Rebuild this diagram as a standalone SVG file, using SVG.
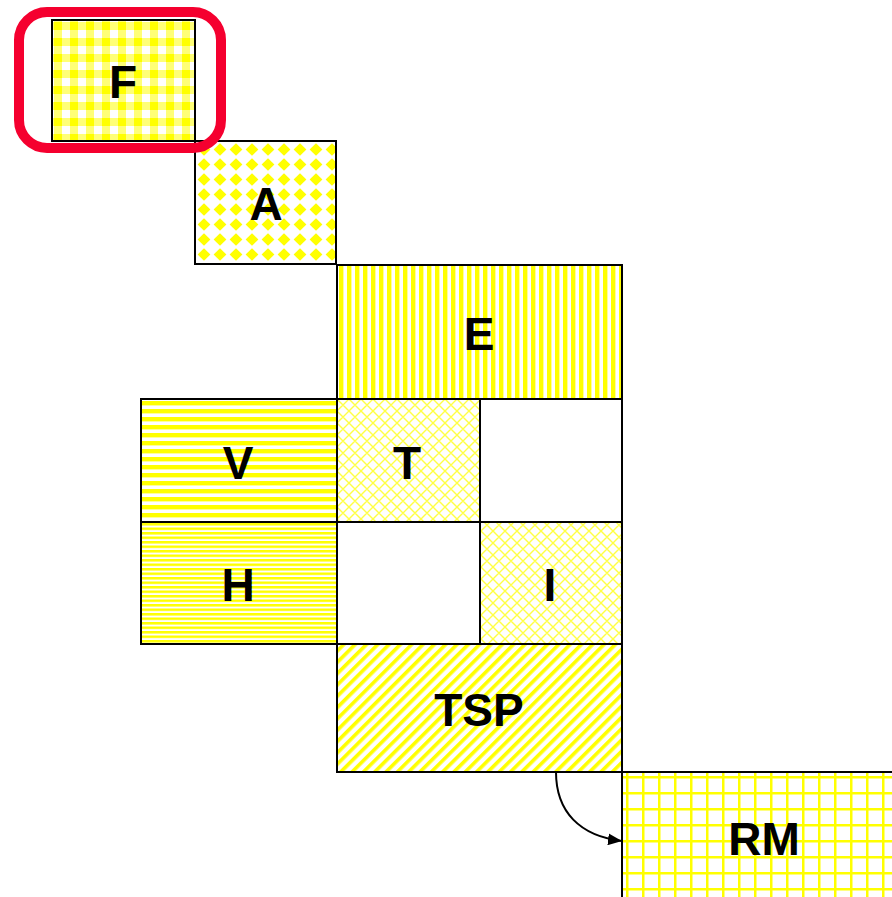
<svg xmlns="http://www.w3.org/2000/svg" width="892" height="897" viewBox="0 0 892 897">
<style>
.box{stroke:#000;stroke-width:2}
.lbl{font-family:"Liberation Sans",Arial,sans-serif;font-weight:bold;font-size:46px;fill:#000;text-anchor:middle}
.conn{fill:none;stroke:#000;stroke-width:2}
</style>
<defs>
<pattern id="pGing" patternUnits="userSpaceOnUse" x="54" y="22" width="16" height="16">
<rect width="16" height="16" fill="#fff"/>
<rect x="0" y="0" width="8" height="16" fill="#ffff77"/>
<rect x="0" y="0" width="16" height="8" fill="#ffff77"/>
<rect x="0" y="0" width="8" height="8" fill="#ffff00"/>
</pattern>
<pattern id="pDiam" patternUnits="userSpaceOnUse" x="196" y="142" width="16" height="15">
<rect width="16" height="15" fill="#fff"/>
<polygon points="8,1.3 14.4,7.5 8,13.7 1.6,7.5" fill="#ffff00"/>
</pattern>
<pattern id="pVert" patternUnits="userSpaceOnUse" x="339" y="0" width="8" height="8">
<rect width="8" height="8" fill="#fff"/>
<rect x="0" width="4" height="8" fill="#ffff00"/>
<rect x="4" width="1" height="8" fill="#ffff99"/>
</pattern>
<pattern id="pHorz" patternUnits="userSpaceOnUse" x="0" y="401" width="8" height="8">
<rect width="8" height="8" fill="#fff"/>
<rect y="0" width="8" height="4" fill="#ffff00"/>
<rect y="4" width="8" height="1" fill="#ffff99"/>
</pattern>
<pattern id="pHorzFine" patternUnits="userSpaceOnUse" x="0" y="523" width="8" height="4.5">
<rect width="8" height="4.5" fill="#fff"/>
<rect y="0" width="8" height="2.5" fill="#ffff00"/>
</pattern>
<pattern id="pCross" patternUnits="userSpaceOnUse" x="337" y="399" width="12" height="12">
<rect width="12" height="12" fill="#fff"/>
<path d="M0,0 L12,12 M12,0 L0,12 M-6,6 L0,12 M6,-6 L18,6 M-6,6 L6,-6 M6,18 L18,6" stroke="#ffff44" stroke-width="1.4" fill="none"/>
</pattern>
<pattern id="pDiag" patternUnits="userSpaceOnUse" x="337" y="644" width="8" height="8" patternTransform="rotate(45)">
<rect width="8" height="8" fill="#fff"/>
<rect width="3.6" height="8" fill="#ffff00"/>
</pattern>
<pattern id="pGrid" patternUnits="userSpaceOnUse" x="626" y="776" width="16" height="16">
<rect width="16" height="16" fill="#fff"/>
<rect x="0" y="0" width="2.5" height="16" fill="#ffff00"/>
<rect x="0" y="0" width="16" height="2.5" fill="#ffff00"/>
</pattern>
<marker id="arrow" markerWidth="14" markerHeight="12" refX="14" refY="6" orient="auto" markerUnits="userSpaceOnUse" viewBox="0 0 14 12">
<polygon points="0,0 14,6 0,12" fill="#000"/>
</marker>
</defs>

<g id="node-F">
<rect class="box" x="52" y="20" width="143" height="121" fill="url(#pGing)"/>
<text class="lbl" x="123" y="98">F</text>
</g>
<g id="node-A">
<rect class="box" x="195" y="141" width="141" height="123" fill="url(#pDiam)"/>
<text class="lbl" x="266" y="220">A</text>
</g>
<g id="node-E">
<rect class="box" x="337" y="265" width="285" height="134" fill="url(#pVert)"/>
<text class="lbl" x="479" y="350">E</text>
</g>
<g id="node-V">
<rect class="box" x="141" y="399" width="196" height="123" fill="url(#pHorz)"/>
<text class="lbl" x="238" y="479">V</text>
</g>
<g id="node-T">
<rect class="box" x="337" y="399" width="143" height="123" fill="url(#pCross)"/>
<text class="lbl" x="407" y="479">T</text>
</g>
<g id="node-empty1">
<rect class="box" x="480" y="399" width="142" height="123" fill="#fff"/>
</g>
<g id="node-H">
<rect class="box" x="141" y="522" width="196" height="122" fill="url(#pHorzFine)"/>
<text class="lbl" x="238" y="601">H</text>
</g>
<g id="node-empty2">
<rect class="box" x="337" y="522" width="143" height="122" fill="#fff"/>
</g>
<g id="node-I">
<rect class="box" x="480" y="522" width="142" height="122" fill="url(#pCross)"/>
<text class="lbl" x="550" y="601">I</text>
</g>
<g id="node-TSP">
<rect class="box" x="337" y="644" width="285" height="128" fill="url(#pDiag)"/>
<text class="lbl" x="479" y="726">TSP</text>
</g>
<g id="node-RM">
<rect class="box" x="622" y="772" width="280" height="140" fill="url(#pGrid)"/>
<text class="lbl" x="764" y="855">RM</text>
</g>

<g id="highlight">
<rect x="19" y="12" width="202" height="136" rx="28" ry="28" fill="none" stroke="#f5002f" stroke-width="10"/>
</g>

<g id="connectors">
<path class="conn" d="M556,772 C556,812 580,836 622,841" marker-end="url(#arrow)"/>
</g>
</svg>
